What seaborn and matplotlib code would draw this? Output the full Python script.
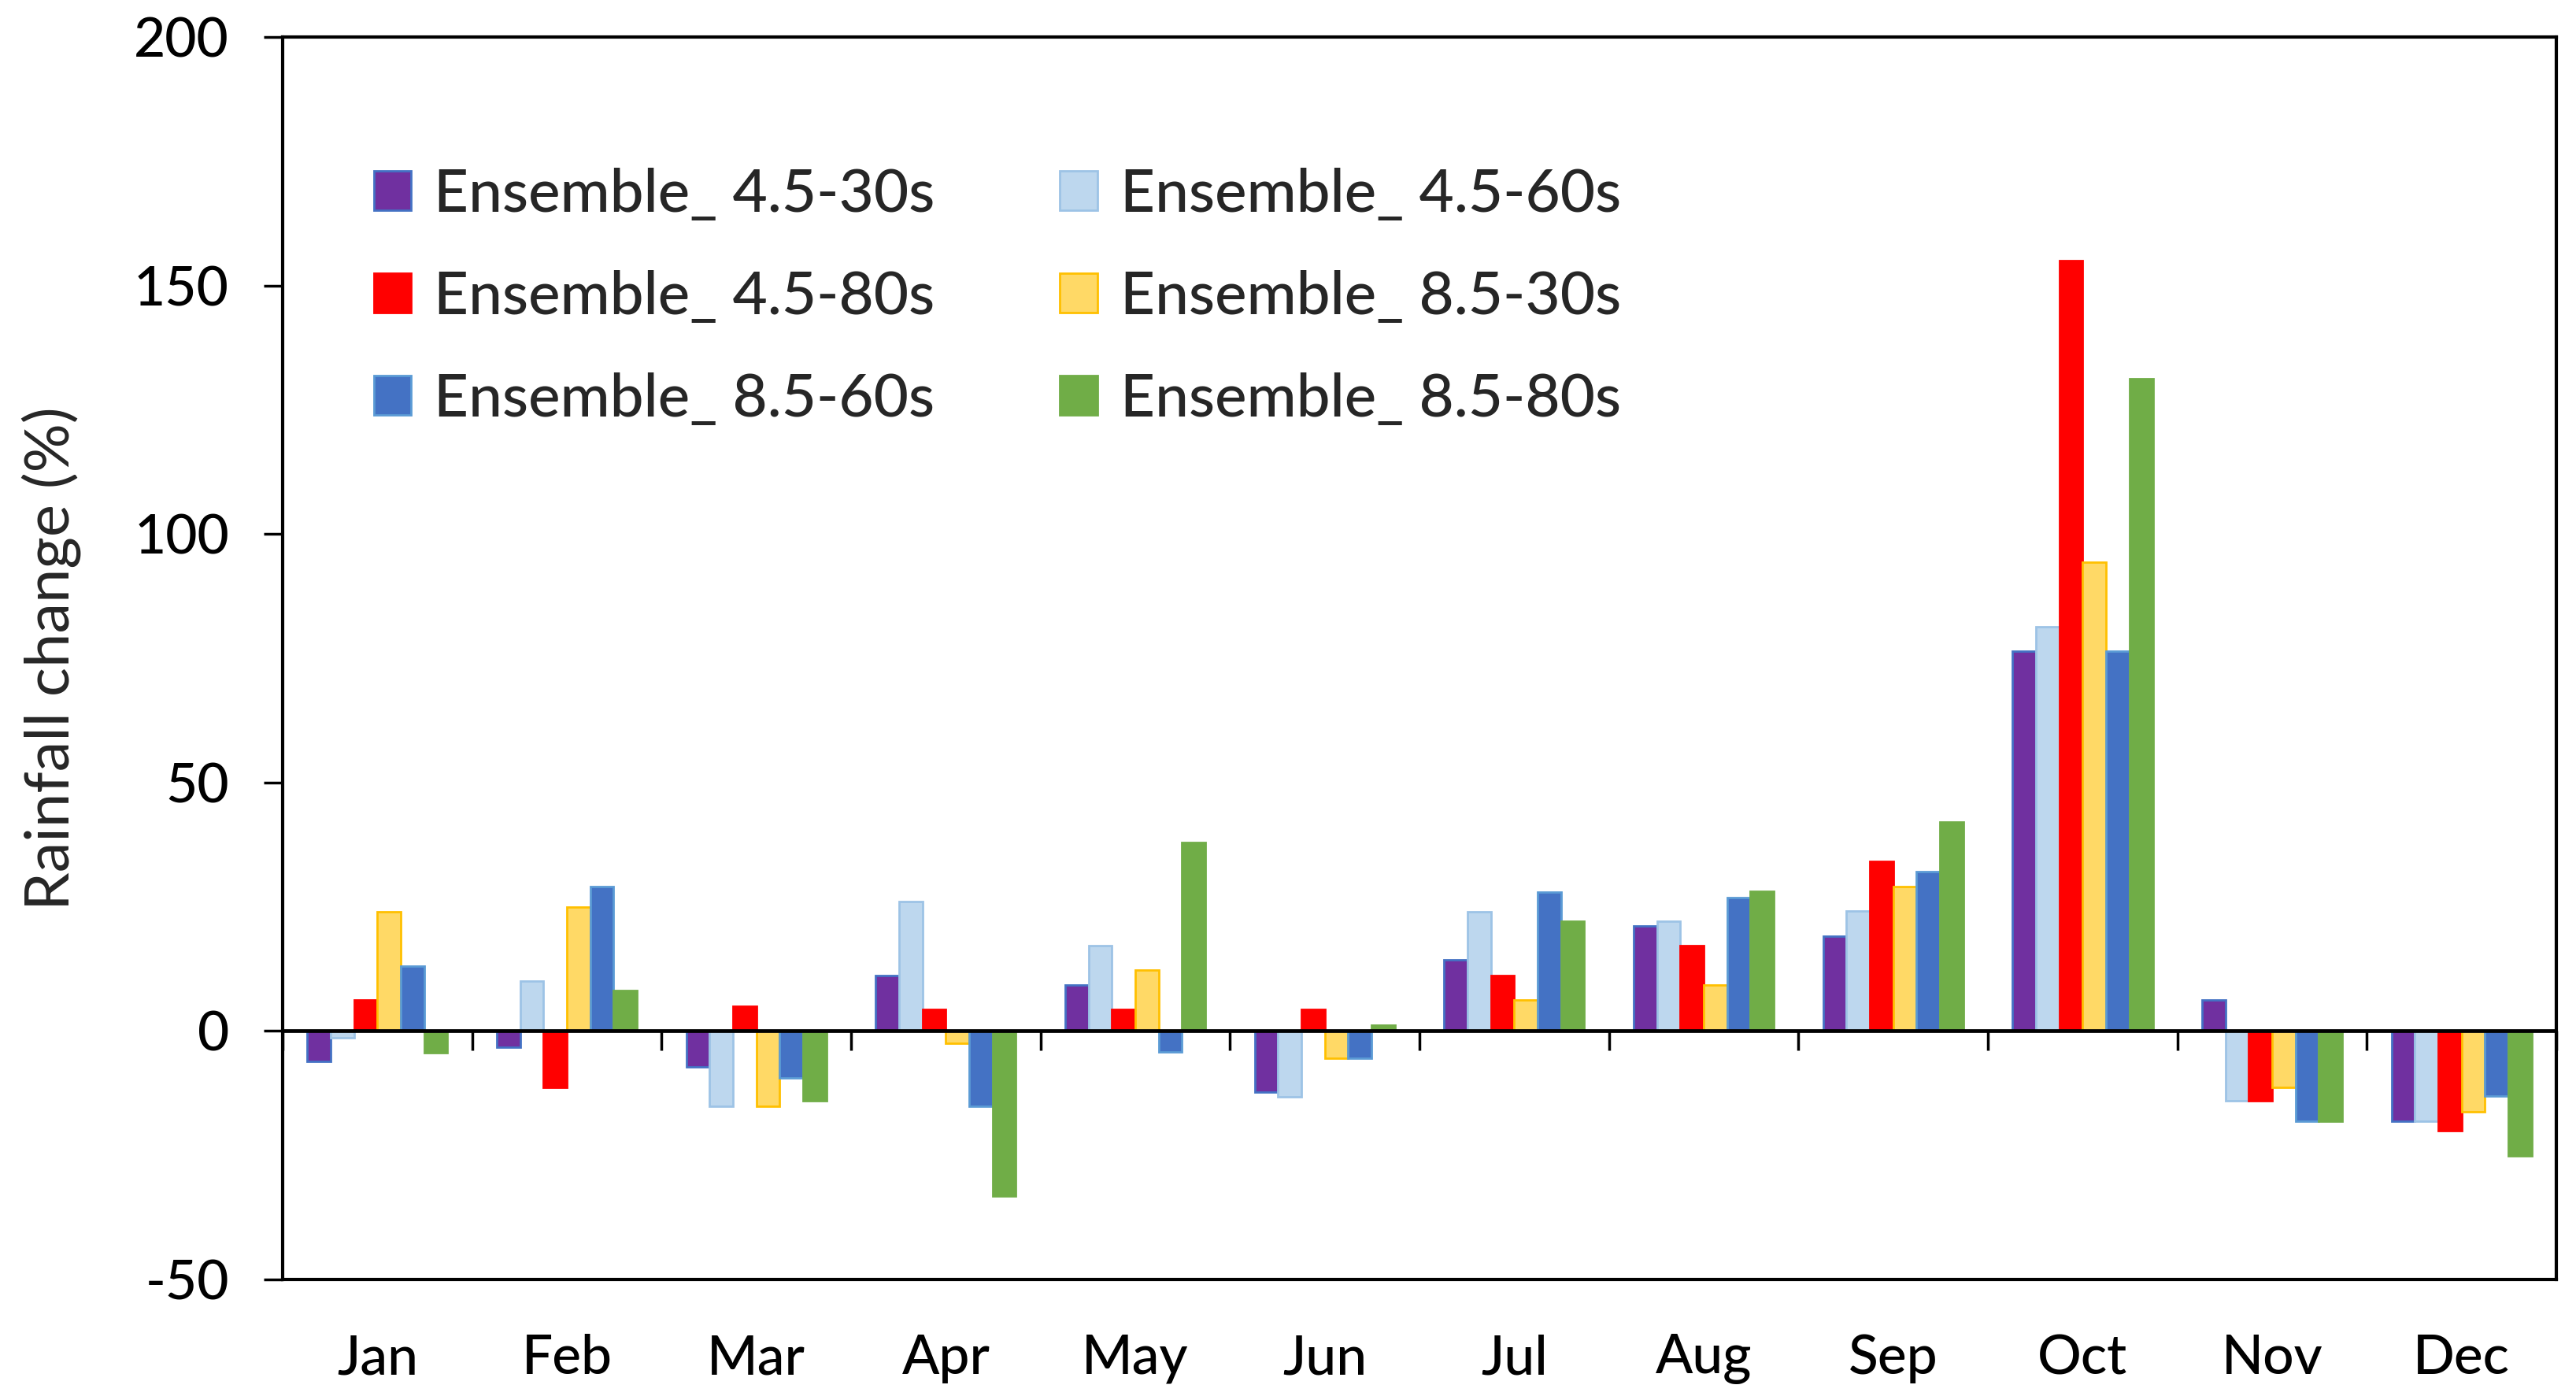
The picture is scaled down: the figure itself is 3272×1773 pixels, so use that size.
import numpy as np
import pandas as pd
import matplotlib
matplotlib.use('Agg')
import matplotlib.pyplot as plt
import seaborn as sns
from matplotlib.patches import Patch

months = ['Jan', 'Feb', 'Mar', 'Apr', 'May', 'Jun', 'Jul', 'Aug', 'Sep', 'Oct', 'Nov', 'Dec']
scenarios = ['Ensemble_ 4.5-30s', 'Ensemble_ 4.5-60s', 'Ensemble_ 4.5-80s',
             'Ensemble_ 8.5-30s', 'Ensemble_ 8.5-60s', 'Ensemble_ 8.5-80s']

rcp45_30s = [-6.2, -3.2, -7.3, 11.2, 9.3, -12.3, 14.3, 21.2, 19.1, 76.5, 6.2, -18.1]
rcp45_60s = [-1.3, 10.1, -15.2, 26.0, 17.2, -13.2, 24.0, 22.0, 24.1, 81.3, -14.1, -18.1]
rcp45_80s = [6.3, -11.3, 5.0, 4.4, 4.4, 4.4, 11.2, 17.2, 34.1, 155.0, -14.1, -20.1]
rcp85_30s = [24.0, 25.0, -15.2, -2.4, 12.2, -5.5, 6.3, 9.3, 29.1, 94.4, -11.3, -16.3]
rcp85_60s = [13.0, 29.0, -9.5, -15.2, -4.2, -5.5, 28.0, 26.9, 32.0, 76.5, -18.1, -13.1]
rcp85_80s = [-4.4, 8.1, -14.1, -33.2, 37.9, 1.1, 22.0, 28.1, 42.0, 131.2, -18.1, -25.1]

fill_colors = ['#7030A0', '#BDD7EE', '#FF0000', '#FFD966', '#4472C4', '#70AD47']
edge_colors = ['#4472C4', '#9DC3E6', '#FF0000', '#FFC000', '#5B9BD5', '#70AD47']

series = [rcp45_30s, rcp45_60s, rcp45_80s, rcp85_30s, rcp85_60s, rcp85_80s]
df = pd.DataFrame({
    'month': np.tile(months, len(scenarios)),
    'scenario': np.repeat(scenarios, len(months)),
    'change': np.concatenate(series),
})

sns.set_style('white')
plt.rcParams['font.family'] = ['Lato', 'DejaVu Sans']
plt.rcParams['font.weight'] = 'medium'
plt.rcParams['axes.unicode_minus'] = False

fig = plt.figure(figsize=(32.73, 17.73), dpi=100)
ax = fig.add_axes([0.1097, 0.0835, 0.8824, 0.89])

sns.barplot(data=df, x='month', y='change', hue='scenario', order=months,
            hue_order=scenarios, palette=fill_colors, width=0.74, saturation=1,
            errorbar=None, ax=ax, legend=False)

for cont, ec in zip(ax.containers, edge_colors):
    for bar in cont:
        bar.set_edgecolor(ec)
        bar.set_linewidth(2)

ymin, ymax = -50, 200
ax.set_ylim(ymin, ymax)
ax.set_xlim(-0.5, len(months) - 0.5)
ax.set_yticks([-50, 0, 50, 100, 150, 200])
ax.set_xlabel('')
ax.set_ylabel('Rainfall change (%)', fontsize=56, labelpad=48)

ax.tick_params(axis='y', direction='out', length=17, width=2.5, pad=32,
               labelsize=50, left=True, colors='black')
ax.tick_params(axis='x', length=0, pad=50, labelsize=50, colors='black')

for sp in ax.spines.values():
    sp.set_visible(True)
    sp.set_color('black')
    sp.set_linewidth(3)

# category axis crossing at zero with tick marks between months
ax.axhline(0, color='black', linewidth=3.4, zorder=5)
zero_pos = (0 - ymin) / (ymax - ymin)
sec = ax.secondary_xaxis(zero_pos)
sec.set_xticks(np.arange(-0.5, len(months) + 0.5, 1), labels=[])
sec.tick_params(direction='out', length=18, width=2.5, colors='black')
sec.spines['bottom'].set_visible(False)

handles = [Patch(facecolor=fc, edgecolor=ec, linewidth=2) for fc, ec in zip(fill_colors, edge_colors)]
order = [0, 2, 4, 1, 3, 5]
ax.legend([handles[i] for i in order], [scenarios[i] for i in order],
          ncol=2, loc='upper left', bbox_to_anchor=(0.04, 0.895), frameon=False,
          fontsize=55, handlelength=0.62, handleheight=0.62, handletextpad=0.38,
          columnspacing=2.08, labelspacing=0.8, borderpad=0, borderaxespad=0)

fig.savefig('out.png', dpi=100, facecolor='white')
